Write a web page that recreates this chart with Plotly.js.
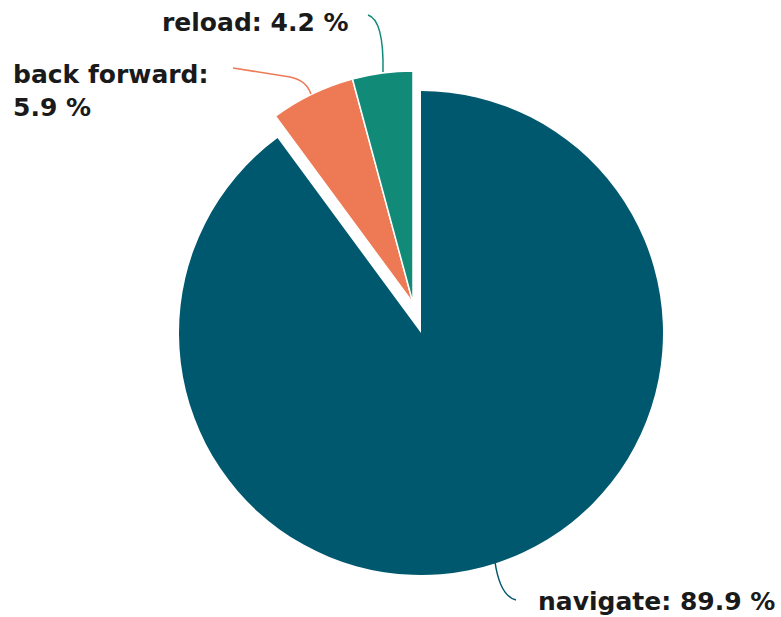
<!DOCTYPE html>
<html>
<head>
<meta charset="utf-8">
<script src="https://cdn.plot.ly/plotly-3.0.1.min.js"></script>
<style>html,body{margin:0;padding:0;background:#fff;}#chart{width:781px;height:617px;}</style>
</head>
<body>
<div id="chart"></div>
<script>
// ---- data ----
const labels = ['navigate', 'back forward', 'reload'];
const values = [89.9, 5.9, 4.2];
const colors = ['#00586E', '#EE7A55', '#128A78'];
const labelSep = [' ', '<br>', ' '];

// ---- layout helpers (pixel -> paper) ----
const W = 781, H = 617;
const px = x => x / W;
const py = y => 1 - y / H;
function domainFor(cx, cy, r) {
  return { x: [px(cx - r), px(cx + r)], y: [py(cy + r), py(cy - r)] };
}
const T = 'rgba(0,0,0,0)';

// main (navigate) slice
const traceMain = {
  type: 'pie', labels: labels, values: values, sort: true, direction: 'clockwise',
  rotation: 0, textinfo: 'none', hoverinfo: 'label+percent',
  marker: { colors: colors.map((c, i) => i === 0 ? c : T), line: { width: 0 } },
  domain: domainFor(421, 333, 242), showlegend: false
};
// small slices, displaced as a group
const traceSmall = {
  type: 'pie', labels: labels, values: values, sort: true, direction: 'clockwise',
  rotation: 0, textinfo: 'none', hoverinfo: 'label+percent',
  marker: { colors: colors.map((c, i) => i === 0 ? T : c),
            line: { color: colors.map((c, i) => i === 0 ? T : '#ffffff'), width: colors.map((c, i) => i === 0 ? 0 : 1.5) } },
  domain: domainFor(413, 303, 232), showlegend: false
};

const fmt = i => labels[i] + ':' + labelSep[i] + values[i].toFixed(1) + ' %';
const font = { family: 'DejaVu Sans, sans-serif', size: 25, color: '#1a1a1a', weight: 'bold' };

const annotations = [
  { text: '<b>' + fmt(0) + '</b>', x: px(536), y: py(601), xanchor: 'left', yanchor: 'middle' },
  { text: '<b>' + fmt(1).replace('<br>', '</b><br><b>') + '</b>', x: px(11), y: py(91), xanchor: 'left', yanchor: 'middle', align: 'left' },
  { text: '<b>' + fmt(2) + '</b>', x: px(160), y: py(23), xanchor: 'left', yanchor: 'middle' }
].map(a => Object.assign({ xref: 'paper', yref: 'paper', showarrow: false, font: font }, a));

function path(pts) { // pts: list of commands with pixel coords
  return pts.map(p => p[0] + ' ' + p.slice(1).reduce((s, v, k) => s + (k % 2 === 0 ? (k ? ' ' : '') + px(v) : ',' + py(v)), '')).join(' ');
}
const shapes = [
  { path: path([['M', 495, 562], ['Q', 500, 596, 516, 600]]), color: colors[0] },
  { path: path([['M', 233, 68], ['L', 290, 77], ['Q', 306, 80, 311, 94]]), color: colors[1] },
  { path: path([['M', 368, 15], ['Q', 384, 20, 383, 72]]), color: colors[2] }
].map(s => ({ type: 'path', xref: 'paper', yref: 'paper', path: s.path, line: { color: s.color, width: 1.5 } }));

Plotly.newPlot('chart', [traceMain, traceSmall], {
  width: W, height: H, margin: { l: 0, r: 0, t: 0, b: 0 },
  paper_bgcolor: '#ffffff', plot_bgcolor: '#ffffff',
  showlegend: false, annotations: annotations, shapes: shapes
}, { displayModeBar: false, staticPlot: true });
</script>
</body>
</html>
